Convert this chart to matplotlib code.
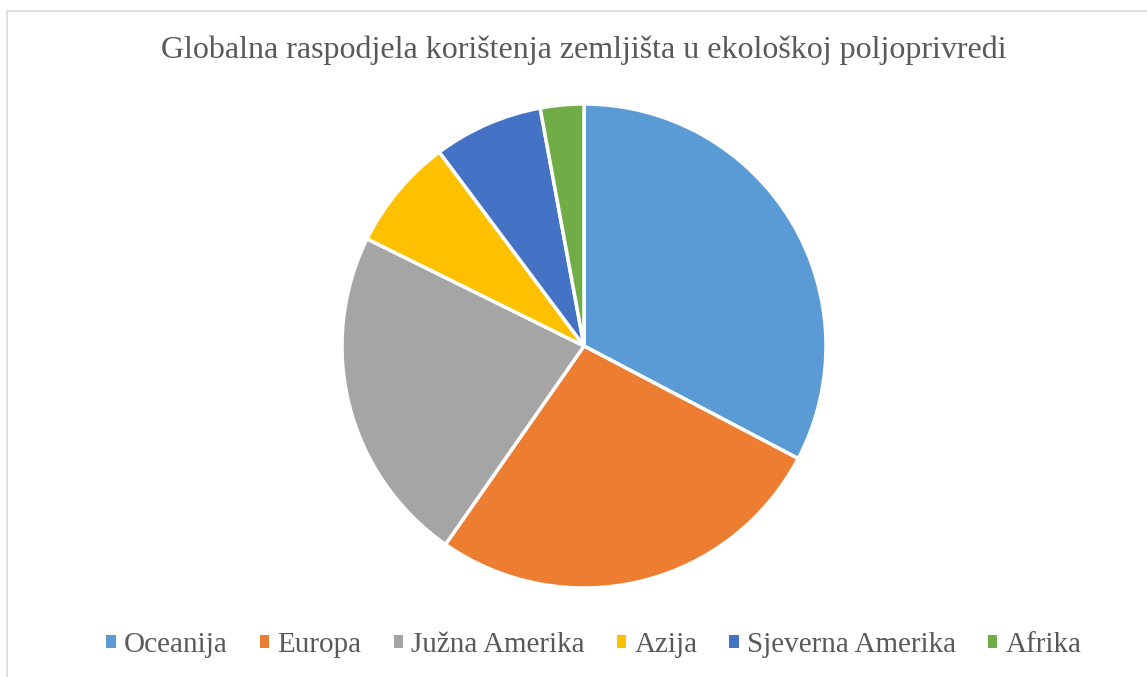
import matplotlib.pyplot as plt
from matplotlib.patches import Rectangle

# podaci (procjena s grafikona, %)
regije = ["Oceanija", "Europa", "Južna Amerika", "Azija", "Sjeverna Amerika", "Afrika"]
udjeli = [32.7, 27.0, 22.6, 7.5, 7.3, 2.9]
boje = ["#5B9BD5", "#ED7D31", "#A5A5A5", "#FFC000", "#4472C4", "#70AD47"]

plt.rcParams['font.family'] = ['Liberation Serif', 'DejaVu Serif']

W, H = 1147, 677
fig = plt.figure(figsize=(W / 100, H / 100), dpi=100)

# okvir grafikona
fig.patches.append(Rectangle((7 / W, -0.01), 1.1, 1 - 11 / H + 0.01, transform=fig.transFigure,
                             fill=False, edgecolor="#D9D9D9", linewidth=1.2))

cx, cy, r = 584, H - 346, 242
ax = fig.add_axes([(cx - r) / W, (cy - r) / H, 2 * r / W, 2 * r / H])
wedges, _ = ax.pie(udjeli, colors=boje, startangle=90, counterclock=False,
                   wedgeprops=dict(edgecolor="white", linewidth=2.5))
ax.set_xlim(-1.0, 1.0)
ax.set_ylim(-1.0, 1.0)
ax.set_aspect("equal")

fig.text(cx / W, 1 - 50 / H, "Globalna raspodjela korištenja zemljišta u ekološkoj poljoprivredi",
         ha="center", va="center", fontsize=23, color="#595959")

leg = fig.legend(wedges, regije, loc="center", bbox_to_anchor=(594 / W, 1 - 645 / H), ncol=6,
                 frameon=False, fontsize=21, handlelength=0.32, handleheight=0.32,
                 handletextpad=0.28, columnspacing=1.1, labelcolor="#595959")
for h in leg.legend_handles:
    h.set_edgecolor("none")

fig.savefig("out.png", dpi=100)
